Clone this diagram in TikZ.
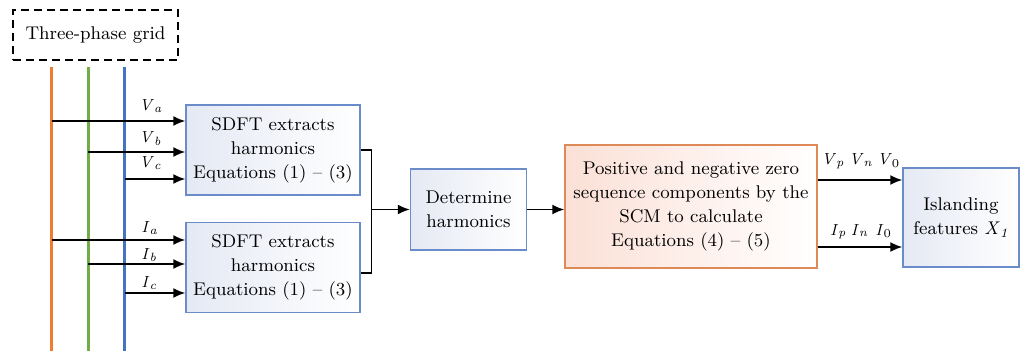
\documentclass[tikz,border=0pt]{standalone}
\usepackage{fontspec}
\usetikzlibrary{arrows.meta,calc}

\definecolor{phaseA}{HTML}{ED7D31}
\definecolor{phaseB}{HTML}{70AD47}
\definecolor{phaseC}{HTML}{4472C4}
\definecolor{boxblue}{HTML}{6B8CCB}
\definecolor{boxorange}{HTML}{DE8A58}
\definecolor{fillblue}{HTML}{E5E9F4}
\definecolor{fillorange}{HTML}{FBE0D6}

% italic symbol with italic subscript
\newcommand\phsym[2]{\textit{#1}\textsubscript{\textit{#2}}}
% italic symbol with upright subscript
\newcommand\phsymz[2]{\textit{#1}\textsubscript{#2}}

\tikzset{
  txt/.style={font=\fontsize{9.2}{12}\selectfont},
  bluebox/.style={txt, draw=boxblue, line width=0.7pt, left color=fillblue, right color=white,
    align=center, inner sep=0pt},
  orangebox/.style={txt, draw=boxorange, line width=0.7pt, left color=fillorange, right color=white,
    align=center, inner sep=0pt},
  gridbox/.style={txt, draw=black, dash pattern=on 4pt off 2.5pt, line width=0.6pt, inner sep=0pt},
  phaseline/.style={line width=1.5pt},
  arr/.style={line width=0.9pt, -{Latex[length=6pt,width=5pt]}},
  wire/.style={line width=0.9pt},
  siglabel/.style={inner sep=0pt, anchor=base west, font=\fontsize{8}{9}\selectfont},
}

\begin{document}
\begin{tikzpicture}[x=0.5pt,y=-0.5pt]
\useasboundingbox (0,0) rectangle (1022,352);

% grid source
\node[gridbox, minimum width=82.5pt, minimum height=25pt] (grid) at (95.5,35) {Three-phase grid};

% three phase conductors
\coordinate (pa) at (51.5,67);
\coordinate (pb) at (88,67);
\coordinate (pc) at (124.5,67);
\coordinate (pae) at (51.5,351);
\coordinate (pbe) at (88,351);
\coordinate (pce) at (124.5,351);
\draw[phaseline, phaseA] (pa) -- (pae);
\draw[phaseline, phaseB] (pb) -- (pbe);
\draw[phaseline, phaseC] (pc) -- (pce);

% processing blocks
\node[bluebox, minimum width=87pt, minimum height=45pt] (sdftv) at (273,150)
  {SDFT extracts\\harmonics\\Equations (1) -- (3)};
\node[bluebox, minimum width=87pt, minimum height=45pt] (sdfti) at (273,267.5)
  {SDFT extracts\\harmonics\\Equations (1) -- (3)};
\node[bluebox, minimum width=58pt, minimum height=40.5pt] (det) at (468.5,209.5)
  {Determine\\harmonics};
\node[orangebox, minimum width=126pt, minimum height=61.5pt] (scm) at (691,206.5)
  {Positive and negative zero\\sequence components by the\\SCM to calculate\\Equations (4) -- (5)};
\node[bluebox, minimum width=58pt, minimum height=49.5pt] (isl) at (961,217.5)
  {Islanding\\features \phsym{X}{1}};

% voltage taps
\coordinate (va) at (51.5,121);
\coordinate (vb) at (88,152);
\coordinate (vc) at (124.5,179);
\draw[arr] (va) -- (va -| sdftv.west);
\draw[arr] (vb) -- (vb -| sdftv.west);
\draw[arr] (vc) -- (vc -| sdftv.west);
\node[siglabel] (lva) at (139,111) {\phsym{V}{a}};
\node[siglabel] (lvb) at (139,143) {\phsym{V}{b}};
\node[siglabel] (lvc) at (139,168) {\phsym{V}{c}};

% current taps
\coordinate (ia) at (51.5,240);
\coordinate (ib) at (88,264);
\coordinate (ic) at (124.5,293);
\draw[arr] (ia) -- (ia -| sdfti.west);
\draw[arr] (ib) -- (ib -| sdfti.west);
\draw[arr] (ic) -- (ic -| sdfti.west);
\node[siglabel] (lia) at (141,233) {\phsym{I}{a}};
\node[siglabel] (lib) at (141,259) {\phsym{I}{b}};
\node[siglabel] (lic) at (141,287) {\phsym{I}{c}};

% merge of both SDFT outputs
\coordinate (mtop) at (371.5,150);
\coordinate (mbot) at (371.5,273);
\coordinate (mmid) at (371.5,209.5);
\draw[wire] (sdftv.east |- mtop) -- (mtop) -- (mbot) -- (sdfti.east |- mbot);
\draw[arr] (mmid) -- (det.west |- mmid);
\draw[arr] (det.east) -- (det.east -| scm.west);

% sequence components to feature block
\coordinate (ov) at (scm.east |- 0,180);
\coordinate (oi) at (scm.east |- 0,247);
\draw[arr] (ov) -- (ov -| isl.west);
\draw[arr] (oi) -- (oi -| isl.west);
\node[siglabel, anchor=base] (lv) at (861,165)
  {\phsym{V}{p}\;\phsym{V}{n}\;\phsymz{V}{0}};
\node[siglabel, anchor=base] (li) at (861,235)
  {\phsym{I}{p}\;\phsym{I}{n}\;\,\phsymz{I}{0}};
\end{tikzpicture}
\end{document}
